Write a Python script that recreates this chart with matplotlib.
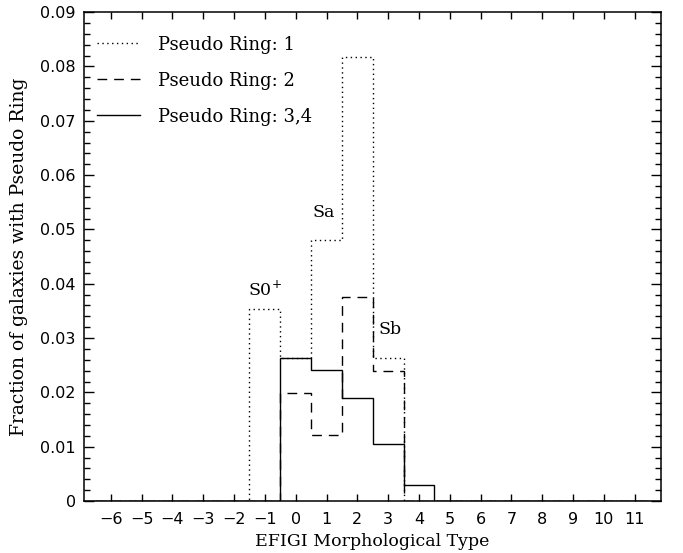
import numpy as np
import matplotlib
matplotlib.use('Agg')
import matplotlib.pyplot as plt
from matplotlib.ticker import MultipleLocator, FuncFormatter

# morphological type bins (centres) and fractions per pseudo-ring class
types = list(range(-6, 12))
ring1 = [0, 0, 0, 0, 0, 0.0353, 0.0264, 0.0480, 0.0818, 0.0263, 0, 0, 0, 0, 0, 0, 0, 0]
ring2 = [0, 0, 0, 0, 0, 0, 0.0198, 0.0122, 0.0376, 0.0239, 0, 0, 0, 0, 0, 0, 0, 0]
ring34 = [0, 0, 0, 0, 0, 0, 0.0264, 0.0241, 0.0189, 0.0105, 0.0030, 0, 0, 0, 0, 0, 0, 0]
labels = ["Pseudo Ring: 1", "Pseudo Ring: 2", "Pseudo Ring: 3,4"]

serif = ['DejaVu Serif']
sans = ['DejaVu Sans']

fig = plt.figure(figsize=(6.83, 5.53), dpi=100)
ax = fig.add_axes([0.123, 0.094, 0.845, 0.884])

edges = np.arange(types[0] - 0.5, types[-1] + 1.0, 1.0)
ax.stairs(ring1, edges, color='black', lw=1.0, ls=(0, (1, 2.5)), label=labels[0])
ax.stairs(ring2, edges, color='black', lw=1.0, ls=(0, (7, 5)), label=labels[1])
ax.stairs(ring34, edges, color='black', lw=1.0, ls='-', label=labels[2])

ax.text(-1.0, 0.0388, "S0$^{+}$", ha='center', va='center', fontsize=12.5, family=serif)
ax.text(0.9, 0.0532, "Sa", ha='center', va='center', fontsize=12.5, family=serif)
ax.text(3.05, 0.0315, "Sb", ha='center', va='center', fontsize=12.5, family=serif)

ax.set_xlim(-6.87, 11.86)
ax.set_ylim(0, 0.09)
ax.xaxis.set_major_locator(MultipleLocator(1))
ax.yaxis.set_major_locator(MultipleLocator(0.01))
ax.yaxis.set_minor_locator(MultipleLocator(0.002))
ax.yaxis.set_major_formatter(FuncFormatter(lambda v, p: "0" if abs(v) < 1e-9 else "%.2f" % v))
ax.xaxis.set_major_formatter(FuncFormatter(lambda v, p: ("\u2212%d" % -v) if v < 0 else "%d" % v))
ax.tick_params(axis='both', which='both', direction='in', top=True, right=True, width=1.0)
ax.tick_params(axis='x', which='major', length=5, labelsize=11.5, pad=8)
ax.tick_params(axis='y', which='major', length=7.5, labelsize=11.5, pad=6)
ax.tick_params(axis='y', which='minor', length=4)
for lab in ax.get_xticklabels() + ax.get_yticklabels():
    lab.set_family(sans)
for s in ax.spines.values():
    s.set_linewidth(1.1)

ax.set_xlabel("EFIGI Morphological Type", family=serif, fontsize=12.5, labelpad=4)
ax.set_ylabel("Fraction of galaxies with Pseudo Ring", family=serif, fontsize=13.5, labelpad=9)

leg = ax.legend(loc='upper left', bbox_to_anchor=(0, 0.978), frameon=False,
                handlelength=2.4, handletextpad=1.0, labelspacing=1.0,
                borderaxespad=0.3, prop={'family': serif, 'size': 13})

fig.savefig('out.png', dpi=100)
